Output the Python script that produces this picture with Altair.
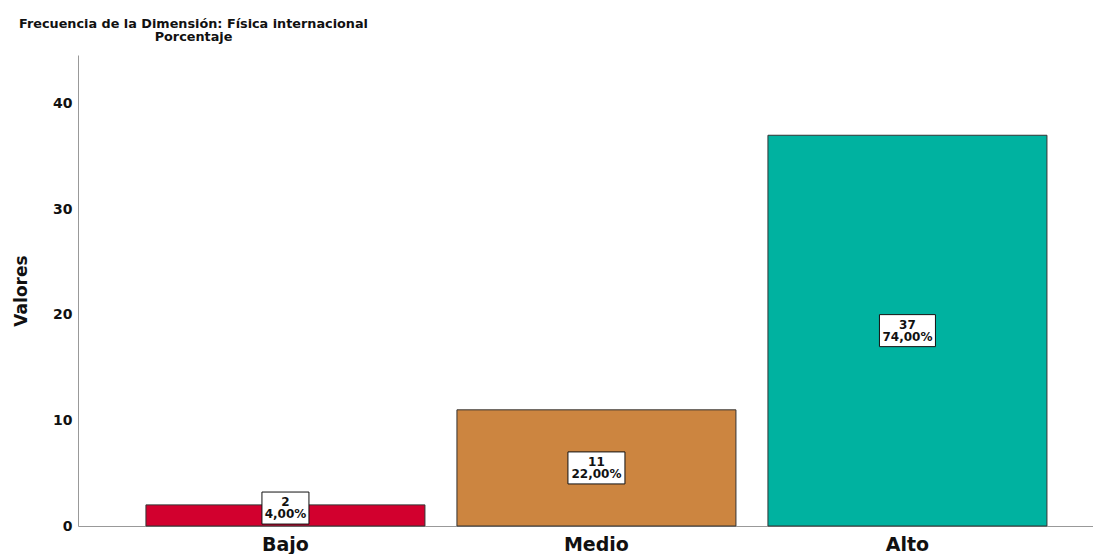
import altair as alt
import pandas as pd

categories = ["Bajo", "Medio", "Alto"]
counts = [2, 11, 37]
percents = ["4,00%", "22,00%", "74,00%"]
colors = ["#D2002E", "#CC8540", "#00B2A0"]

df = pd.DataFrame({"cat": categories, "v": counts, "pct": percents})

FONT = "DejaVu Sans"

xscale = alt.Scale(domain=categories, paddingInner=0.1029, paddingOuter=0.1833, align=0.596)
yscale = alt.Scale(domain=[0, 44.6], nice=False, zero=True)

x = alt.X("cat:N", sort=categories, scale=xscale,
          axis=alt.Axis(title=None, labelAngle=0, labelFont=FONT, labelFontSize=19,
                        labelFontWeight="bold", labelColor="#111", ticks=False,
                        domainColor="#999", labelPadding=9))

bars = alt.Chart(df).mark_bar(stroke="#333", strokeWidth=1).encode(
    x=x,
    y=alt.Y("v:Q", scale=yscale,
            axis=alt.Axis(title="Valores", values=[0, 10, 20, 30, 40], grid=False, ticks=False,
                          domainColor="#999", labelFont=FONT, labelFontSize=14,
                          labelFontWeight="bold", labelColor="#111", labelPadding=6,
                          titleFont=FONT, titleFontSize=17, titleFontWeight="bold",
                          titleColor="#111", titlePadding=22)),
    color=alt.Color("cat:N", scale=alt.Scale(domain=categories, range=colors), legend=None),
)

def box(hw):
    return f"M{-hw},-0.667L{hw},-0.667L{hw},0.667L{-hw},0.667Z"

base = alt.Chart(df).transform_calculate(
    ly="max(datum.v / 2, 1.7)",
    lbl="datum.v + '\\n' + datum.pct",
)

boxes = base.mark_point(filled=True, fill="white", stroke="#111", strokeWidth=1,
                        size=2304, opacity=1).encode(
    x=alt.X("cat:N", sort=categories, scale=xscale),
    y=alt.Y("ly:Q", scale=yscale),
    shape=alt.Shape("cat:N", scale=alt.Scale(domain=categories,
                    range=[box(47/48), box(57/48), box(56/48)]), legend=None),
)

texts = base.mark_text(font=FONT, fontSize=12, fontWeight="bold", color="#111",
                       lineBreak="\n", lineHeight=12, baseline="middle", align="center",
                       dy=-6).encode(
    x=alt.X("cat:N", sort=categories, scale=xscale),
    y=alt.Y("ly:Q", scale=yscale),
    text="lbl:N",
)

chart = alt.layer(bars, boxes, texts).properties(
    width=1015,
    height=471,
    autosize=alt.AutoSizeParams(type="none"),
    padding={"left": 70, "top": 47, "right": 0, "bottom": 28},
    title=alt.Title(
        text=["Frecuencia de la Dimensión: Física internacional", "Porcentaje"],
        anchor="start", align="center", dx=181, font=FONT, fontSize=12.8,
        fontWeight="bold", color="#111", lineHeight=13.5, offset=11,
    ),
).configure_view(stroke=None)

chart.save("out.html", embed_options={"renderer": "svg", "actions": False})
